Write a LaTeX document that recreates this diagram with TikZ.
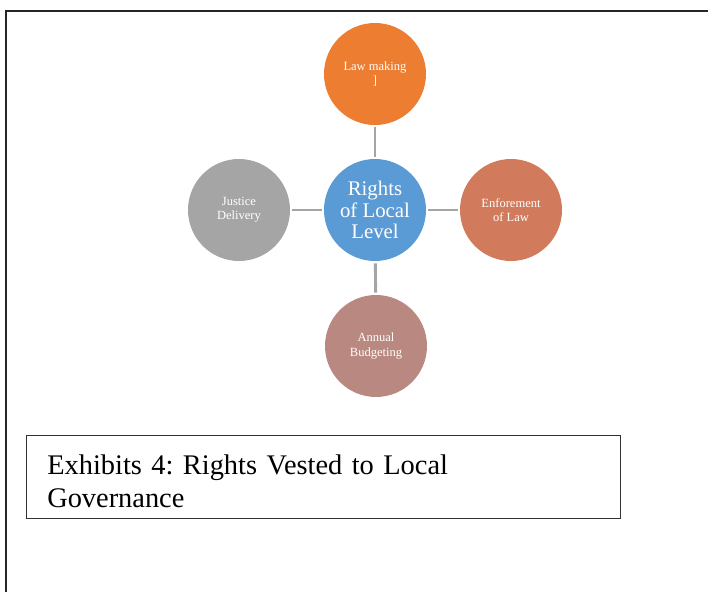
\documentclass[tikz,border=0pt]{standalone}
\usepackage{fontspec}
\setmainfont{Liberation Serif}
\usetikzlibrary{shapes.geometric, arrows, positioning}
\definecolor{laworange}{HTML}{ED7D31}
\definecolor{rightsblue}{HTML}{5B9BD5}
\definecolor{enforcered}{HTML}{D17B5C}
\definecolor{justicegray}{HTML}{A5A5A5}
\definecolor{budgetrose}{HTML}{B98981}
\tikzstyle{bubble} = [circle, minimum size=76.5pt, inner sep=0pt, text=white, align=center, font=\fontsize{9.4pt}{10.7pt}\selectfont]
\tikzstyle{link} = [line width=2.2pt, draw=justicegray, shorten >=1.5pt, shorten <=1.5pt]
\tikzstyle{frame} = [line width=1.1pt, draw=black!85]

\begin{document}
\frenchspacing
\begin{tikzpicture}[node distance=102pt]
            \useasboundingbox (0,0) rectangle (531pt,-444pt);
            \draw [frame] (4.5pt,-460pt) -- (4.5pt,-8.25pt) -- (545pt,-8.25pt);

            \node (rights) [bubble, fill=rightsblue, font=\fontsize{15.6pt}{16.3pt}\selectfont] at (281.25pt,-157.5pt) {Rights\\of Local\\Level};
            \node (law) [bubble, fill=laworange, above of = rights] {Law making\\]};
            \node (enforce) [bubble, fill=enforcered, right of = rights] {Enforement\\of Law};
            \node (justice) [bubble, fill=justicegray, left of = rights] {Justice\\Delivery};
            \node (budget) [bubble, fill=budgetrose, below of = rights, xshift=0.75pt] {Annual\\Budgeting};

            \node (caption) [draw=black!80, line width=0.8pt, anchor=north west, text width=414pt, inner xsep=15.75pt, inner ysep=0pt, minimum height=62.25pt, align=left, font=\fontsize{21.3pt}{24.8pt}\selectfont] at (19.3pt,-326.25pt) {\rule{0pt}{21pt}Exhibits 4: Rights Vested to Local\\Governance};

            \draw [link] (rights) -- (law);
            \draw [link] (rights) -- (enforce);
            \draw [link] (rights) -- (justice);
            \draw [link] (rights) -- (budget);
\end{tikzpicture}
\end{document}
